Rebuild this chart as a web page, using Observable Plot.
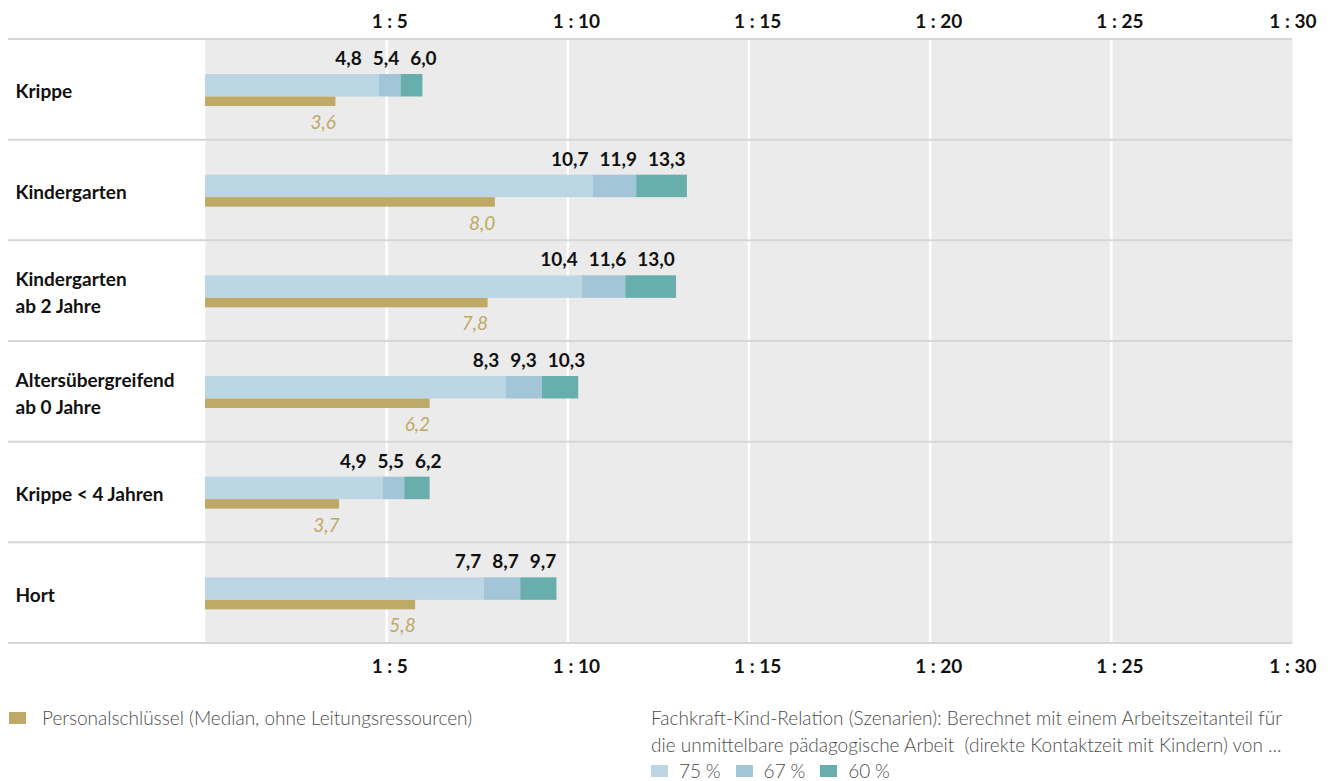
<!DOCTYPE html>
<html><head><meta charset="utf-8">
<script src="https://cdn.jsdelivr.net/npm/d3@7"></script>
<script src="https://cdn.jsdelivr.net/npm/@observablehq/plot@0.6"></script>
<style>
body{margin:0;background:#fff;font-family:Lato,sans-serif;}
#chart{position:relative;width:1331px;height:781px;overflow:hidden;}
.legend{position:absolute;color:#4d4d4d;font-weight:300;font-size:19px;line-height:27px;white-space:nowrap;}
.sw{display:inline-block;width:17px;height:12px;vertical-align:middle;position:relative;top:-2px;}
.it{display:inline-block;}
</style></head><body><div id="chart"></div>
<script>
// ---- data ----
const categories = ["Krippe", "Kindergarten", "Kindergarten\nab 2 Jahre", "Altersübergreifend\nab 0 Jahre", "Krippe < 4 Jahren", "Hort"];
const share75 = [4.8, 10.7, 10.4, 8.3, 4.9, 7.7];
const share67 = [5.4, 11.9, 11.6, 9.3, 5.5, 8.7];
const share60 = [6.0, 13.3, 13.0, 10.3, 6.2, 9.7];
const personalschluessel = [3.6, 8.0, 7.8, 6.2, 3.7, 5.8];
const tickValues = [5, 10, 15, 20, 25, 30];
const tickLabels = ["1 : 5", "1 : 10", "1 : 15", "1 : 20", "1 : 25", "1 : 30"];
const scenarioNames = ["75\u202F%", "67\u202F%", "60\u202F%"];
const scenarioColors = ["#bdd6e4", "#a3c5d8", "#68aead"];
const medianColor = "#bfa966";
const medianLegend = "Personalschlüssel (Median, ohne Leitungsressourcen)";
const scenarioLegend = ["Fachkraft-Kind-Relation (Szenarien): Berechnet mit einem Arbeitszeitanteil für", "die unmittelbare pädagogische Arbeit\u00A0 (direkte Kontaktzeit mit Kindern) von ..."];

// ---- layout ----
const W = 1331, H = 690, ML = 205, MR = 39, MT = 39, MB = 47;
const BW = (H - MT - MB) / categories.length;
const FS = 19;
const fmt = v => d3.format(".1f")(v).replace(".", ",");

const segments = [];
categories.forEach((c, i) => {
  const ends = [share75[i], share67[i], share60[i]];
  ends.forEach((e, s) => segments.push({cat: c, s, x1: s === 0 ? 0 : ends[s - 1], x2: e}));
});
const medians = categories.map((c, i) => ({cat: c, v: personalschluessel[i]}));

// value label placement with dodge (pixel-based via scale factor)
const k = (W - ML - MR) / 30;
const ctx = document.createElement("canvas").getContext("2d");
ctx.font = `bold ${FS}px Lato`;
const valueLabels = [];
categories.forEach((c, i) => {
  const vals = [share75[i], share67[i], share60[i]];
  const items = vals.map(v => {
    const t = fmt(v), w = ctx.measureText(t).width;
    return {t, w, c: ML + v * k - 2 - w / 2};
  });
  const gap = 11;
  for (let it = 0; it < 100; it++) {
    for (let j = 1; j < items.length; j++) {
      const need = (items[j].w + items[j - 1].w) / 2 + gap;
      const d = need - (items[j].c - items[j - 1].c);
      if (d > 0) { items[j - 1].c -= d / 2; items[j].c += d / 2; }
    }
  }
  items.forEach(o => valueLabels.push({cat: c, t: o.t, lx: (o.c + o.w / 2 - ML) / k}));
});
const tickFmt = d => tickLabels[tickValues.indexOf(d)];
const innerTicks = tickValues.slice(0, -1), lastTick = tickValues.slice(-1);
const axisStyle = {tickSize: 0, tickFormat: tickFmt, fontSize: FS, fontWeight: "bold", color: "#111", label: null};
const axes = [["top", 12], ["bottom", 16]].flatMap(([anchor, tickPadding]) => [
  Plot.axisX({anchor, tickPadding, ticks: innerTicks, textAnchor: "start", dx: -15, ...axisStyle}),
  Plot.axisX({anchor, tickPadding, ticks: lastTick, textAnchor: "end", dx: 24, ...axisStyle})
]);

const plot = Plot.plot({
  width: W, height: H,
  marginLeft: ML, marginRight: MR, marginTop: MT, marginBottom: MB,
  style: {fontFamily: "Lato, sans-serif", fontSize: FS + "px", background: "transparent"},
  x: {domain: [0, 30]},
  y: {domain: categories, padding: 0, round: false, axis: null},
  marks: [
    Plot.frame({fill: "#ebebeb", stroke: null}),
    Plot.ruleX(innerTicks, {stroke: "#fff", strokeWidth: 2.5}),
    Plot.barX(segments, {y: "cat", x1: "x1", x2: "x2", fill: d => scenarioColors[d.s], insetTop: 35, insetBottom: BW - 57.5}),
    Plot.barX(medians, {y: "cat", x: "v", fill: medianColor, insetTop: 57.5, insetBottom: BW - 67}),
    Plot.text(valueLabels, {y: "cat", x: "lx", text: "t", textAnchor: "end", dy: -31, fontWeight: "bold", fontSize: FS, fill: "#111"}),
    Plot.text(medians, {y: "cat", x: "v", text: d => fmt(d.v), textAnchor: "end", dy: 33, fontStyle: "italic", fontSize: FS, fill: medianColor}),
    Plot.text(categories, {y: d => d, text: d => d, frameAnchor: "left", textAnchor: "start", dx: -190, fontWeight: "bold", fontSize: FS, lineHeight: 27 / FS, fill: "#111"}),
    ...axes
  ]
});

// row separators spanning label column and plot area, from the y scale
const ys = plot.scale("y");
const svg = d3.select(plot);
const lines = categories.map(c => ys.apply(c)).concat([ys.apply(categories[categories.length - 1]) + ys.bandwidth]);
svg.append("g").selectAll("line").data(lines).join("line")
  .attr("x1", 8).attr("x2", W - MR).attr("y1", d => d).attr("y2", d => d)
  .attr("stroke", "#d6d6d6").attr("stroke-width", 2);

const root = document.getElementById("chart");
root.appendChild(plot);
plot.style.position = "absolute"; plot.style.left = "0"; plot.style.top = "0";

const left = document.createElement("div");
left.className = "legend";
left.style.left = "9px"; left.style.top = "704px";
left.innerHTML = `<span class="sw" style="background:${medianColor};margin-right:16px"></span>${medianLegend}`;
root.appendChild(left);

const right = document.createElement("div");
right.className = "legend";
right.style.left = "651px"; right.style.top = "704px";
right.innerHTML = scenarioLegend.join("<br>");
root.appendChild(right);

const keys = document.createElement("div");
keys.className = "legend";
keys.style.left = "651px"; keys.style.top = "761px"; keys.style.lineHeight = "19px";
keys.innerHTML = scenarioNames.map((n, i) => `<span class="sw" style="background:${scenarioColors[i]};margin-right:11px"></span><span class="it" style="margin-right:15px">${n}</span>`).join("");
root.appendChild(keys);
</script>
</body></html>
